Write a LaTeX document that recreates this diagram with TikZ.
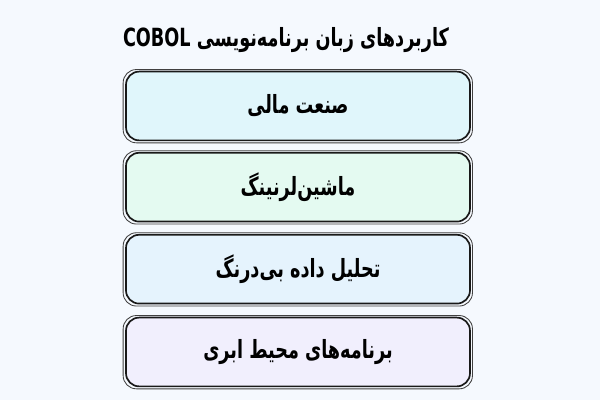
\documentclass[tikz,border=0pt]{standalone}
\usepackage{graphicx}
\usepackage{fontspec}
\TeXXeTstate=1
\newfontfamily\farsi[Script=Arabic]{DejaVu Sans}
\newcommand\fatext[1]{\scalebox{0.93}[1.32]{\beginR #1\endR}}

\definecolor{pagebg}{HTML}{F5F9FE}
\definecolor{boxa}{HTML}{E0F6FB}
\definecolor{boxb}{HTML}{E4FAF1}
\definecolor{boxc}{HTML}{E5F3FD}
\definecolor{boxd}{HTML}{F1EFFD}

\tikzset{
  appbox/.style={draw=black!90, line width=1.2pt, rounded corners=0.33cm,
    minimum width=8.6cm, minimum height=1.72cm,
    font=\farsi\bfseries\fontsize{13.5}{15}\selectfont},
  sketch/.style={draw=black!75, line width=0.6pt, rounded corners=0.33cm}
}

\begin{document}
\begin{tikzpicture}
\fill[pagebg] (0,0) rectangle (15,10);
\useasboundingbox (0,0) rectangle (15,10);

% title
\node[font=\farsi\bfseries\fontsize{13.5}{15}\selectfont] (title) at (7.15,9.0)
   {\fatext{کاربردهای زبان برنامه‌نویسی \beginL COBOL\endL}};

% the four boxes
\foreach \n/\y/\c/\t in {1/7.35/boxa/{صنعت مالی},
                         2/5.32/boxb/{ماشین‌لرنینگ},
                         3/3.27/boxc/{تحلیل داده بی‌درنگ},
                         4/1.2/boxd/{برنامه‌های محیط ابری}} {
   \node[appbox, fill=\c] (app\n) at (7.45,\y) {\fatext{\t}};
   \draw[sketch] ([shift={(-0.05,-0.04)}]app\n.south west)
        rectangle ([shift={(0.04,0.03)}]app\n.north east);
};

\end{tikzpicture}
\end{document}
